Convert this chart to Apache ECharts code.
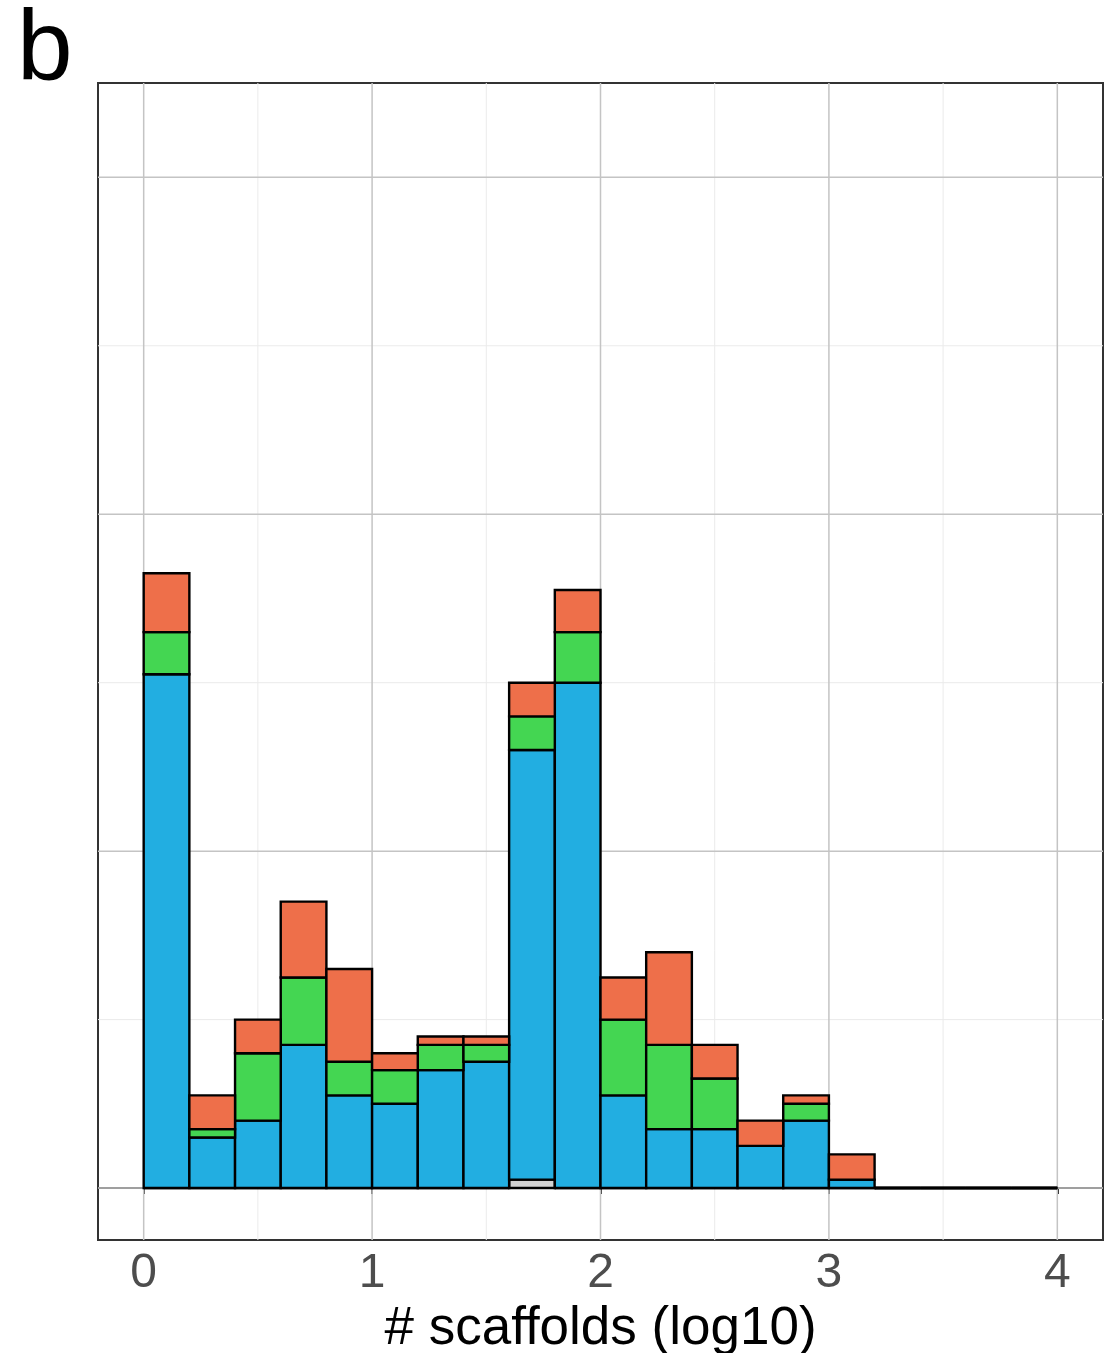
<!DOCTYPE html>
<html>
<head>
<meta charset="utf-8">
<script src="https://cdn.jsdelivr.net/npm/echarts@6/dist/echarts.min.js"></script>
<style>
  html, body { margin: 0; padding: 0; background: #fff; }
  #main { width: 1116px; height: 1353px; }
</style>
</head>
<body>
<div id="main"></div>
<script>
// bin start positions (log10 # scaffolds), each bin 0.2 wide
var binStart = [0, 0.2, 0.4, 0.6, 0.8, 1.0, 1.2, 1.4, 1.6, 1.8, 2.0, 2.2, 2.4, 2.6, 2.8, 3.0, 3.2, 3.4, 3.6, 3.8]
var binWidth = 0.2

// counts per group, stacked bottom -> top
var gray   = [0, 0, 0, 0, 0, 0, 0, 0, 1, 0, 0, 0, 0, 0, 0, 0, 0, 0, 0, 0]
var blue   = [61, 6, 8, 17, 11, 10, 14, 15, 51, 60, 11, 7, 7, 5, 8, 1, 0, 0, 0, 0]
var green  = [5, 1, 8, 8, 4, 4, 3, 2, 4, 6, 9, 10, 6, 0, 2, 0, 0, 0, 0, 0]
var orange = [7, 4, 4, 9, 11, 2, 1, 1, 4, 5, 5, 11, 4, 3, 1, 3, 0, 0, 0, 0]

// axis ticks / grid
var xTicks = [0, 1, 2, 3, 4]
var xMinor = [0.5, 1.5, 2.5, 3.5]
var yMajor = [0, 40, 80, 120]
var yMinor = [20, 60, 100]
var xMin = -0.2, xMax = 4.2
var yMin = -6.17, yMax = 131.2

var groups = [
  { name: 'gray', values: gray, color: '#d3d3d3' },
  { name: 'blue', values: blue, color: '#22aee1' },
  { name: 'green', values: green, color: '#44d652' },
  { name: 'orange', values: orange, color: '#ee6f4a' }
]

var myChart = echarts.init(document.getElementById('main'))

// build stacked rects
var cum = binStart.map(function () { return 0 })
var barSeries = groups.map(function (g) {
  var data = binStart.map(function (x0, i) {
    var y0 = cum[i]
    var y1 = y0 + g.values[i]
    cum[i] = y1
    return [x0, x0 + binWidth, y0, y1]
  })
  return {
    type: 'custom',
    name: g.name,
    z: 5,
    clip: false,
    renderItem: function (params, api) {
      var p0 = api.coord([api.value(0), api.value(3)])
      var p1 = api.coord([api.value(1), api.value(2)])
      return {
        type: 'rect',
        shape: { x: p0[0], y: p0[1], width: p1[0] - p0[0], height: p1[1] - p0[1] },
        style: { fill: g.color, stroke: '#000', lineWidth: 2.4 }
      }
    },
    data: data
  }
})

// gridlines drawn through the axes
function gridSeries(vals, dir, color, width) {
  return {
    type: 'custom',
    z: 1,
    silent: true,
    renderItem: function (params, api) {
      var v = api.value(0)
      var a, b
      if (dir === 'x') {
        a = api.coord([v, yMin]); b = api.coord([v, yMax])
      } else {
        a = api.coord([xMin, v]); b = api.coord([xMax, v])
      }
      return {
        type: 'line',
        shape: { x1: a[0], y1: a[1], x2: b[0], y2: b[1] },
        style: { stroke: color, lineWidth: width }
      }
    },
    data: vals.map(function (v) { return [v] })
  }
}

var option = {
  animation: false,
  backgroundColor: '#fff',
  textStyle: { fontFamily: 'Liberation Sans, Arial, sans-serif' },
  grid: {
    left: 98, top: 83, right: 13, bottom: 113,
    outerBoundsMode: 'none',
    containLabel: false,
    show: true, borderColor: '#333', borderWidth: 2
  },
  graphic: [{
    type: 'text', left: 17, top: 2,
    style: { text: 'b', fontSize: 100, fill: '#000', fontFamily: 'Liberation Sans, Arial, sans-serif' }
  }],
  xAxis: {
    type: 'value', min: xMin, max: xMax,
    name: '# scaffolds (log10)',
    nameLocation: 'middle',
    nameGap: 49,
    nameTextStyle: { fontSize: 53, color: '#000' },
    axisLine: { show: true, lineStyle: { color: '#333', width: 2 } },
    axisTick: { show: true, customValues: xTicks, length: 6, lineStyle: { color: '#333', width: 2 } },
    axisLabel: { customValues: xTicks, fontSize: 48, color: '#4d4d4d', margin: 10 },
    splitLine: { show: false }
  },
  yAxis: {
    type: 'value', min: yMin, max: yMax, show: false,
    splitLine: { show: false }
  },
  series: [
    gridSeries(xMinor, 'x', '#ebebeb', 1),
    gridSeries(yMinor, 'y', '#ebebeb', 1),
    gridSeries(xTicks, 'x', '#c4c4c4', 1.5),
    gridSeries(yMajor, 'y', '#c4c4c4', 1.5)
  ].concat(barSeries)
}

myChart.setOption(option)
</script>
</body>
</html>
